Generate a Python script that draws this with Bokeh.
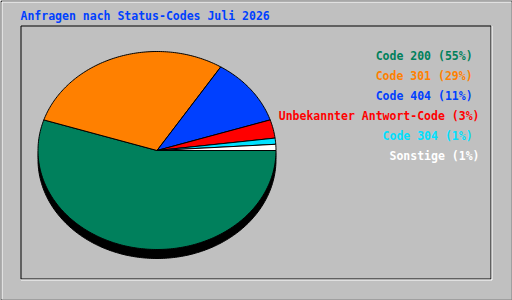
import numpy as np
from bokeh.plotting import figure
from bokeh.models import Range1d
from bokeh.core.properties import value
from bokeh.embed import file_html
from bokeh.resources import INLINE

title = "Anfragen nach Status-Codes Juli 2026"
labels = ["Code 200  (55%)", "Code 301  (29%)", "Code 404  (11%)",
          "Unbekannter Antwort-Code (3%)", "Code 304  (1%)", "Sonstige (1%)"]
shares = [55, 29, 11, 3, 1, 1]
colors = ["#00805C", "#FF8000", "#0040FF", "#FF0000", "#00E0FF", "#FFFFFF"]

W, H = 512, 300
BG = "#C0C0C0"
p = figure(width=W, height=H, output_backend="svg", toolbar_location=None,
           x_range=Range1d(0, W), y_range=Range1d(H, 0),
           x_axis_type=None, y_axis_type=None, min_border=0,
           background_fill_color=BG, border_fill_color=BG,
           outline_line_color=None)
p.grid.visible = False

# outer 3D border
p.line([0.5, 0.5, W - 0.5], [H - 0.5, 0.5, 0.5], line_color="black", line_width=1)
p.line([1.5, 1.5, W - 1.5], [H - 1.5, 1.5, 1.5], line_color="white", line_width=1)
p.line([0.5, W - 0.5, W - 0.5], [H - 0.5, H - 0.5, 0.5], line_color="#808080", line_width=1)
# inner frame
p.line([20.5, 20.5, 490.5], [278.5, 25.5, 25.5], line_color="black", line_width=1)
p.line([20.5, 490.5, 490.5], [278.5, 278.5, 25.5], line_color="black", line_width=1)
p.line([20.5, 491.5, 491.5], [279.5, 279.5, 25.5], line_color="white", line_width=1)

# pie geometry
cx, cy, rx, ry = 156.5, 150.0, 119.0, 99.0
shadow_dy = 9.0

t = np.linspace(0, 2 * np.pi, 361)
p.patch(cx + rx * np.cos(t), cy + shadow_dy - ry * np.sin(t),
        fill_color="black", line_color="black")

fr = np.array(shares, dtype=float) / sum(shares)
ends = -np.cumsum(fr) * 2 * np.pi
starts = np.concatenate([[0.0], ends[:-1]])
xs, ys = [], []
for a0, a1 in zip(starts, ends):
    n = max(3, int(abs(a1 - a0) / (2 * np.pi) * 360) + 2)
    tt = np.linspace(a0, a1, n)
    xs.append(np.concatenate([[cx], cx + rx * np.cos(tt)]))
    ys.append(np.concatenate([[cy], cy - ry * np.sin(tt)]))
p.patches(xs, ys, fill_color=colors, line_color="black", line_width=1)

font = value("DejaVu Sans Mono")
p.text([20], [15.5], text=[title], text_color="#0040FF", text_font=font,
       text_font_size="11.5px", text_font_style="bold", text_baseline="middle")

ly = [55 + 20 * i for i in range(len(labels))]
p.text([479] * len(labels), ly, text=labels, text_color=colors, text_font=font,
       text_font_size="11.5px", text_font_style="bold", text_align="right",
       text_baseline="middle")

open("out.html", "w").write(file_html(p, INLINE))
